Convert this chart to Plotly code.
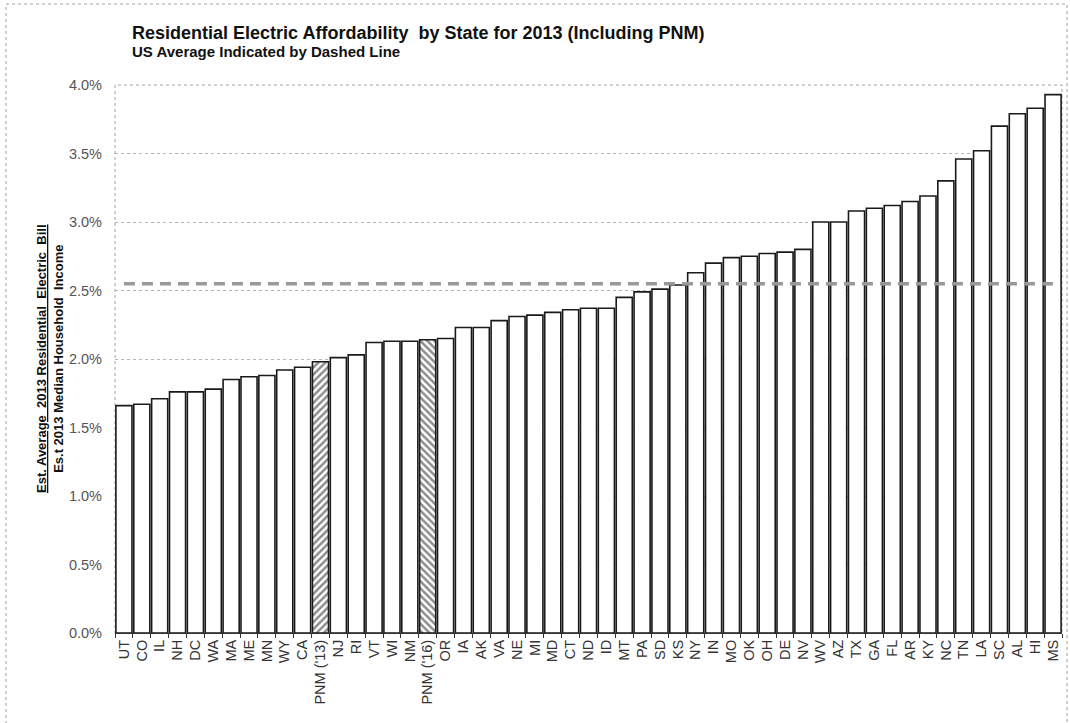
import plotly.graph_objects as go

# Residential electric bill as a share of median household income, 2013
states = [
    "UT", "CO", "IL", "NH", "DC", "WA", "MA", "ME", "MN", "WY", "CA",
    "PNM ('13)", "NJ", "RI", "VT", "WI", "NM", "PNM ('16)", "OR", "IA",
    "AK", "VA", "NE", "MI", "MD", "CT", "ND", "ID", "MT", "PA", "SD",
    "KS", "NY", "IN", "MO", "OK", "OH", "DE", "NV", "WV", "AZ", "TX",
    "GA", "FL", "AR", "KY", "NC", "TN", "LA", "SC", "AL", "HI", "MS",
]
affordability_pct = [
    1.66, 1.67, 1.71, 1.76, 1.76, 1.78, 1.85, 1.87, 1.88, 1.92, 1.94,
    1.98, 2.01, 2.03, 2.12, 2.13, 2.13, 2.14, 2.15, 2.23,
    2.23, 2.28, 2.31, 2.32, 2.34, 2.36, 2.37, 2.37, 2.45, 2.49, 2.51,
    2.54, 2.63, 2.70, 2.74, 2.75, 2.77, 2.78, 2.80, 3.00, 3.00, 3.08,
    3.10, 3.12, 3.15, 3.19, 3.30, 3.46, 3.52, 3.70, 3.79, 3.83, 3.93,
]
us_average_pct = 2.55
pnm_hatch = {"PNM ('13)": "/", "PNM ('16)": "\\"}

y_ticks = [0.0, 0.5, 1.0, 1.5, 2.0, 2.5, 3.0, 3.5, 4.0]
y_tick_labels = ["0.0%", "0.5%", "1.0%", "1.5%", "2.0%", "2.5%", "3.0%", "3.5%", "4.0%"]

W, H = 1070, 723
ML, MR, MT, MB = 115, 8, 85, 90
PW, PH = W - ML - MR, H - MT - MB


def px_x(p):
    return (p - ML) / PW


def px_y(p):
    return (H - MB - p) / PH


FONT = "Arial, Liberation Sans, sans-serif"

fig = go.Figure()

fig.add_trace(go.Bar(
    x=states,
    y=affordability_pct,
    marker=dict(
        color="white",
        line=dict(color="#1a1a1a", width=1.6),
        pattern=dict(
            shape=[pnm_hatch.get(s, "") for s in states],
            fgcolor="#1a1a1a",
            bgcolor="white",
            size=5,
            solidity=0.5,
        ),
    ),
    showlegend=False,
    hoverinfo="x+y",
))

# US average reference line
fig.add_trace(go.Scatter(
    x=[states[0], states[-1]],
    y=[us_average_pct, us_average_pct],
    mode="lines",
    line=dict(color="#999999", width=3.5, dash="11px,7px"),
    showlegend=False,
    hoverinfo="skip",
))

fig.update_layout(
    width=W,
    height=H,
    margin=dict(l=ML, r=MR, t=MT, b=MB),
    paper_bgcolor="white",
    plot_bgcolor="white",
    bargap=0.1,
    font=dict(family=FONT, size=13, color="#444"),
    xaxis=dict(
        type="category",
        tickmode="array",
        tickvals=states,
        ticktext=states,
        tickangle=-90,
        tickfont=dict(family=FONT, size=14.5, color="#333"),
        showline=True,
        linecolor="#333",
        linewidth=1,
        ticks="outside",
        tickson="boundaries",
        ticklen=4,
        tickcolor="#333",
        showgrid=False,
        range=[-0.5, len(states) - 0.5],
    ),
    yaxis=dict(
        range=[0, 4.0],
        tickvals=y_ticks,
        ticktext=y_tick_labels,
        tickfont=dict(family=FONT, size=14.5, color="#555"),
        showgrid=True,
        gridcolor="#b5b5b5",
        griddash="dot",
        gridwidth=1,
        zeroline=False,
        showline=False,
        ticks="",
        ticklabelstandoff=12,
    ),
    shapes=[
        # dotted plot-area border
        dict(type="rect", xref="paper", yref="paper", x0=0, x1=1, y0=0, y1=1,
             line=dict(color="#a0a0a0", width=1, dash="dot"), layer="below"),
        # dotted outer chart frame
        dict(type="rect", xref="paper", yref="paper",
             x0=px_x(6), x1=px_x(1067), y0=px_y(735), y1=px_y(4),
             line=dict(color="#a0a0a0", width=1, dash="dot"), layer="below"),
    ],
    annotations=[
        dict(text="<b>Residential Electric Affordability  by State for 2013 (Including PNM)</b>",
             xref="paper", yref="paper", x=px_x(130), y=px_y(33),
             xanchor="left", yanchor="middle", showarrow=False,
             font=dict(family=FONT, size=18, color="#111")),
        dict(text="<b>US Average Indicated by Dashed Line</b>",
             xref="paper", yref="paper", x=px_x(130), y=px_y(52),
             xanchor="left", yanchor="middle", showarrow=False,
             font=dict(family=FONT, size=15, color="#111")),
        dict(text="<b><u>Est. Average  2013 Residential  Electric  Bill</u></b><br>"
                  "<b>Es.t 2013 Median Household  Income</b>",
             xref="paper", yref="paper", x=px_x(50), y=0.5,
             xanchor="center", yanchor="middle", textangle=-90, showarrow=False,
             font=dict(family=FONT, size=13, color="#111")),
    ],
)

fig.write_html("out.html")
